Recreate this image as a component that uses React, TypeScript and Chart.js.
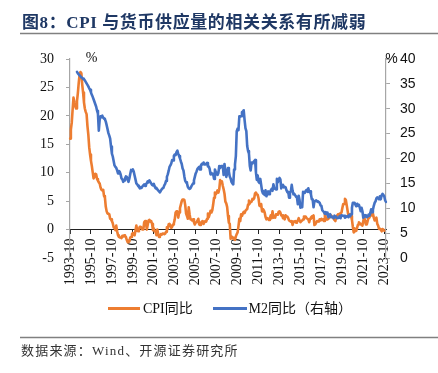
import React, { useEffect, useRef } from 'react';
import { Chart, registerables } from 'chart.js';

Chart.register(...registerables);

const TITLE = '图8：CPI 与货币供应量的相关关系有所减弱';
const SOURCE = '数据来源：Wind、开源证券研究所';
const CPI_LABEL = 'CPI同比';
const M2_LABEL = 'M2同比（右轴）';
const CPI_COLOR = '#ED7D31';
const M2_COLOR = '#4472C4';

// monthly categories 1993-10 .. 2023-12
const categories: string[] = [];
for (let y = 1993; y <= 2023; y++) {
  for (let mo = 1; mo <= 12; mo++) {
    if (y === 1993 && mo < 10) continue;
    categories.push(`${y}-${String(mo).padStart(2, '0')}`);
  }
}

const tickLabels = [
  '1993-10', '1995-10', '1997-10', '1999-10', '2001-10', '2003-10', '2005-10', '2007-10',
  '2009-10', '2011-10', '2013-10', '2015-10', '2017-10', '2019-10', '2021-10', '2023-10',
];

const leftTicks = [-5, 0, 5, 10, 15, 20, 25, 30];
const rightTicks = [0, 5, 10, 15, 20, 25, 30, 35, 40];

// CPI YoY (%), left axis
const cpi: (number | null)[] = [
  16.0, 17.6, 18.8,
  21.1, 23.2, 22.4, 21.7, 21.3, 22.6, 24.0, 25.8, 27.3, 27.7, 27.5, 25.5,
  24.1, 22.4, 21.3, 20.7, 20.3, 18.2, 16.7, 14.5, 13.2, 12.1, 11.2, 10.1,
  9.0, 9.3, 9.8, 9.7, 8.9, 8.6, 8.3, 8.1, 7.4, 7.0, 6.9, 7.0,
  5.9, 5.6, 4.0, 3.2, 2.8, 2.8, 2.7, 1.9, 1.8, 1.5, 1.1, 0.4,
  0.3, -0.1, 0.7, -0.3, -1.0, -1.3, -1.4, -1.4, -1.5, -1.1, -1.2, -1.0,
  -1.2, -1.3, -1.8, -2.2, -2.2, -2.1, -1.4, -1.3, -0.8, -0.6, -0.9, -1.0,
  -0.2, 0.7, -0.2, -0.3, 0.1, 0.5, 0.5, 0.3, 0.0, 0.0, 1.3, 1.5,
  1.2, 0.0, 0.8, 1.6, 1.7, 1.4, 1.5, 1.0, -0.1, 0.2, -0.3, -0.3,
  -1.0, 0.0, -0.8, -1.3, -1.1, -0.8, -0.9, -0.7, -0.7, -0.8, -0.7, -0.4,
  0.4, 0.2, 0.9, 1.0, 0.7, 0.3, 0.5, 0.9, 1.1, 1.8, 3.0, 3.2,
  3.2, 2.1, 3.0, 3.8, 4.4, 5.0, 5.3, 5.3, 5.2, 4.3, 2.8, 2.4,
  1.9, 3.9, 2.7, 1.8, 1.8, 1.6, 1.8, 1.3, 0.9, 1.2, 1.3, 1.6,
  1.9, 0.9, 0.8, 1.2, 1.4, 1.5, 1.0, 1.3, 1.5, 1.4, 1.9, 2.8,
  2.2, 2.7, 3.3, 3.0, 3.4, 4.4, 5.6, 6.5, 6.2, 6.5, 6.9, 6.5,
  7.1, 8.7, 8.3, 8.5, 7.7, 7.1, 6.3, 4.9, 4.6, 4.0, 2.4, 1.2,
  1.0, -1.6, -1.2, -1.5, -1.4, -1.7, -1.8, -1.2, -0.8, -0.5, 0.6, 1.9,
  1.5, 2.7, 2.4, 2.8, 3.1, 2.9, 3.3, 3.5, 3.6, 4.4, 5.1, 4.6,
  4.9, 4.9, 5.4, 5.3, 5.5, 6.4, 6.5, 6.2, 6.1, 5.5, 4.2, 4.1,
  4.5, 3.2, 3.6, 3.4, 3.0, 2.2, 1.8, 2.0, 1.9, 1.7, 2.0, 2.5,
  2.0, 3.2, 2.1, 2.4, 2.1, 2.7, 2.7, 2.6, 3.1, 3.2, 3.0, 2.5,
  2.5, 2.0, 2.4, 1.8, 2.5, 2.3, 2.3, 2.0, 1.6, 1.6, 1.4, 1.5,
  0.8, 1.4, 1.4, 1.5, 1.2, 1.4, 1.6, 2.0, 1.6, 1.3, 1.5, 1.6,
  1.8, 2.3, 2.3, 2.3, 2.0, 1.9, 1.8, 1.3, 1.9, 2.1, 2.3, 2.1,
  2.5, 0.8, 0.9, 1.2, 1.5, 1.5, 1.4, 1.8, 1.6, 1.9, 1.7, 1.8,
  1.5, 2.9, 2.1, 1.8, 1.8, 1.9, 2.1, 2.3, 2.5, 2.5, 2.2, 1.9,
  1.7, 1.5, 2.3, 2.5, 2.7, 2.7, 2.8, 2.8, 3.0, 3.8, 4.5, 4.5,
  5.4, 5.2, 4.3, 3.3, 2.4, 2.5, 2.7, 2.4, 1.7, 0.5, -0.5, 0.2,
  -0.3, -0.2, 0.4, 0.9, 1.3, 1.1, 1.0, 0.8, 0.7, 1.5, 2.3, 1.5,
  0.9, 0.9, 1.5, 2.1, 2.1, 2.5, 2.7, 2.5, 2.8, 2.1, 1.6, 1.8,
  2.1, 1.0, 0.7, 0.1, 0.2, 0.0, -0.3, 0.1, 0.0, -0.2, null, null,
];

// M2 YoY (%), right axis, as plotted per category
const m2: (number | null)[] = [
  null, null, null,
  null, null, null, null, null, 37.4, 37.1, 36.9, 36.7, 36.5, 36.3, 36.2,
  36.0, 35.9, 35.7, 35.4, 35.1, 34.8, 34.5, 34.1, 33.8, 33.3, 32.8, 32.4,
  31.9, 31.4, 30.9, 30.4, 29.6, 29.0, 25.6, 27.8, 28.5, 28.3, 28.6, 28.2,
  28.0, 27.9, 27.4, 26.7, 25.9, 25.1, 24.6, 24.0, 22.4, 21.0, 20.4, 19.5,
  18.6, 18.3, 18.1, 17.6, 17.0, 17.5, 17.3, 16.8, 16.0, 15.8, 15.3, 15.6,
  16.0, 16.4, 16.3, 15.8, 15.3, 16.0, 16.9, 17.7, 17.5, 17.8, 17.4, 16.6,
  15.8, 15.0, 14.8, 14.5, 14.3, 14.0, 14.2, 14.1, 14.4, 14.6, 14.8, 14.5,
  14.9, 15.0, 15.4, 15.2, 15.6, 15.3, 15.0, 14.7, 14.6, 14.9, 14.4, 14.0,
  14.1, 13.8, 13.6, 13.4, 13.2, 13.5, 13.8, 14.0, 14.1, 14.6, 14.9, 15.5,
  16.3, 16.8, 17.5, 18.3, 18.6, 19.0, 19.7, 19.6, 20.5, 20.8, 20.7, 21.3,
  21.6, 20.9, 20.5, 20.0, 19.4, 18.9, 18.0, 17.6, 16.4, 15.5, 15.2, 15.0,
  14.3, 14.0, 13.9, 14.0, 14.4, 14.7, 15.0, 15.6, 16.3, 17.0, 17.4, 17.9,
  18.1, 18.3, 17.8, 18.6, 18.9, 18.8, 19.2, 18.8, 18.8, 18.9, 19.1, 18.4,
  18.4, 17.9, 16.8, 17.1, 16.8, 16.9, 15.9, 17.8, 17.3, 17.1, 16.7, 17.1,
  18.5, 18.1, 18.5, 18.5, 18.5, 16.7, 18.9, 17.5, 16.3, 16.9, 18.1, 17.4,
  16.4, 16.0, 15.3, 15.0, 14.8, 17.8, 18.8, 20.5, 25.5, 26.0, 25.7, 28.5,
  28.4, 28.5, 29.3, 29.4, 29.7, 27.7, 26.1, 25.5, 22.5, 21.5, 21.0, 18.5,
  17.6, 19.2, 19.0, 19.3, 19.5, 19.7, 17.2, 15.7, 16.6, 15.3, 15.1, 15.9,
  14.7, 13.5, 13.0, 12.9, 12.7, 13.6, 12.4, 13.0, 13.4, 12.8, 13.2, 13.6,
  13.9, 13.5, 14.8, 14.1, 13.9, 13.8, 15.9, 15.2, 15.7, 16.1, 15.8, 14.0,
  14.5, 14.7, 14.2, 14.3, 14.2, 13.6, 13.2, 13.3, 12.1, 13.2, 13.4, 14.7,
  13.5, 12.8, 12.9, 12.6, 12.3, 12.2, 10.8, 12.5, 11.6, 10.1, 10.8, 10.2,
  13.3, 13.3, 13.1, 13.5, 13.7, 13.3, 14.0, 13.3, 13.4, 12.8, 11.8, 11.8,
  10.2, 11.4, 11.5, 11.6, 11.4, 11.3, 11.3, 11.1, 10.6, 10.5, 9.6, 9.4,
  9.2, 8.9, 9.2, 8.8, 9.1, 8.2, 8.6, 8.8, 8.2, 8.3, 8.3, 8.0,
  8.5, 8.2, 8.3, 8.0, 8.0, 8.1, 8.4, 8.0, 8.6, 8.5, 8.5, 8.5,
  8.1, 8.2, 8.4, 8.4, 8.2, 8.7, 8.4, 8.8, 10.1, 11.1, 11.1, 11.1,
  10.7, 10.4, 10.9, 10.5, 10.7, 10.1, 9.4, 10.1, 9.4, 8.1, 8.3, 8.6,
  8.3, 8.2, 8.3, 8.7, 8.5, 9.0, 9.8, 9.2, 9.7, 10.5, 11.1, 11.4,
  12.0, 12.2, 12.1, 11.8, 12.4, 11.8, 12.6, 12.9, 12.7, 12.4, 11.6, 11.3,
];

const SERIF = "'Liberation Serif', 'Noto Sans CJK SC', serif";
const SANS = "'Liberation Sans', 'Noto Sans CJK SC', sans-serif";
const AXIS_GRAY = '#a6a6a6';
const TEXT = '#111111';

const decorPlugin = {
  id: 'decor',
  afterDraw(chart: any) {
    const ctx = chart.ctx as any;
    const area = chart.chartArea;
    ctx.save();
    // title
    ctx.fillStyle = '#1f3864';
    ctx.font = `bold 17px ${SERIF}`;
    ctx.textAlign = 'left';
    ctx.textBaseline = 'alphabetic';
    ctx.letterSpacing = '0.6px';
    ctx.fillText(TITLE, 22, 28);
    // rules
    ctx.strokeStyle = '#808080';
    ctx.lineWidth = 1.6;
    ctx.beginPath();
    ctx.moveTo(20, 33.5);
    ctx.lineTo(438, 33.5);
    ctx.moveTo(20, 337.5);
    ctx.lineTo(438, 337.5);
    ctx.stroke();
    // source
    ctx.fillStyle = '#333333';
    ctx.font = `13px ${SERIF}`;
    ctx.letterSpacing = '1.2px';
    ctx.fillText(SOURCE, 21, 355);
    ctx.letterSpacing = '0px';
    // units
    ctx.fillStyle = TEXT;
    ctx.font = `14px ${SERIF}`;
    ctx.textAlign = 'center';
    ctx.fillText('%', area.left + 21.5, area.top + 3);
    ctx.font = `14px ${SANS}`;
    ctx.fillText('%', area.right + 5.5, area.top + 4);
    // legend
    const ds = chart.data.datasets;
    const items = [
      { x0: 108, x1: 140, tx: 143, ds: ds[1] },
      { x0: 213, x1: 247, tx: 248.5, ds: ds[0] },
    ];
    const ly = 308.5;
    items.forEach((it) => {
      ctx.strokeStyle = it.ds.borderColor;
      ctx.lineWidth = 3;
      ctx.beginPath();
      ctx.moveTo(it.x0, ly);
      ctx.lineTo(it.x1, ly);
      ctx.stroke();
      ctx.fillStyle = TEXT;
      ctx.font = `14px ${SERIF}`;
      ctx.textAlign = 'left';
      ctx.textBaseline = 'middle';
      ctx.fillText(it.ds.label, it.tx, ly + 0.5);
    });
    ctx.restore();
  },
};

export default function App() {
  const ref = useRef<HTMLCanvasElement | null>(null);

  useEffect(() => {
    if (!ref.current) return;
    const chart = new Chart(ref.current, {
      type: 'line',
      data: {
        labels: categories,
        datasets: [
          {
            label: M2_LABEL,
            data: m2,
            yAxisID: 'y1',
            borderColor: M2_COLOR,
            backgroundColor: M2_COLOR,
            borderWidth: 2.6,
            pointRadius: 0,
            tension: 0,
            borderJoinStyle: 'round',
            borderCapStyle: 'round',
            spanGaps: false,
          },
          {
            label: CPI_LABEL,
            data: cpi,
            yAxisID: 'y',
            borderColor: CPI_COLOR,
            backgroundColor: CPI_COLOR,
            borderWidth: 2.6,
            pointRadius: 0,
            tension: 0,
            borderJoinStyle: 'round',
            borderCapStyle: 'round',
            spanGaps: false,
          },
        ],
      },
      options: {
        responsive: false,
        animation: false,
        devicePixelRatio: 1,
        layout: { padding: { top: 59, bottom: 115, left: 0, right: 0 } },
        plugins: {
          legend: { display: false },
          tooltip: { enabled: false },
          title: { display: false },
        },
        scales: {
          x: {
            type: 'category',
            position: { y: 0 } as any,
            offset: false,
            grid: { drawOnChartArea: false, drawTicks: true, tickLength: 4, color: '#222222', lineWidth: 1 },
            border: { display: true, color: '#222222', width: 1 },
            ticks: {
              autoSkip: false,
              minRotation: 90,
              maxRotation: 90,
              padding: 5,
              color: TEXT,
              font: { family: SERIF, size: 14 },
            },
            afterBuildTicks: (scale: any) => {
              scale.ticks = scale.ticks.filter((t: any) => tickLabels.includes(categories[t.value]));
            },
          },
          y: {
            type: 'linear',
            position: 'left',
            min: leftTicks[0],
            max: leftTicks[leftTicks.length - 1],
            afterBuildTicks: (scale: any) => {
              scale.ticks = leftTicks.map((v) => ({ value: v }));
            },
            ticks: { padding: 12, color: TEXT, font: { family: SERIF, size: 14 } },
            grid: { drawOnChartArea: false, drawTicks: true, tickLength: 4, color: AXIS_GRAY },
            border: { display: true, color: AXIS_GRAY, width: 1.2 },
            afterFit: (scale: any) => {
              scale.width = 70;
            },
          },
          y1: {
            type: 'linear',
            position: 'right',
            min: rightTicks[0],
            max: rightTicks[rightTicks.length - 1],
            afterBuildTicks: (scale: any) => {
              scale.ticks = rightTicks.map((v) => ({ value: v }));
            },
            ticks: { padding: 10, color: TEXT, font: { family: SANS, size: 14 } },
            grid: { drawOnChartArea: false, drawTicks: true, tickLength: 4, color: AXIS_GRAY },
            border: { display: true, color: AXIS_GRAY, width: 1.2 },
            afterFit: (scale: any) => {
              scale.width = 52;
            },
          },
        },
      },
      plugins: [decorPlugin],
    } as any);
    return () => chart.destroy();
  }, []);

  return (
    <div style={{ position: 'absolute', left: 0, top: 0, width: 438, height: 373, background: '#ffffff' }}>
      <canvas ref={ref} width={438} height={373} style={{ display: 'block', width: 438, height: 373 }} />
    </div>
  );
}
